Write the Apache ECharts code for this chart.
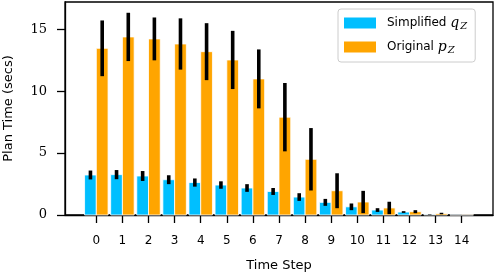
<!DOCTYPE html>
<html>
<head>
<meta charset="utf-8">
<script src="https://cdn.jsdelivr.net/npm/echarts@6/dist/echarts.min.js"></script>
<style>html,body{margin:0;padding:0;background:#fff}#c{width:496px;height:274px}</style>
</head>
<body>
<div id="c"></div>
<script>
const timeSteps = [0,1,2,3,4,5,6,7,8,9,10,11,12,13,14];
const simplifiedMean = [3.23,3.26,3.15,2.85,2.62,2.42,2.18,1.90,1.45,1.02,0.66,0.40,0.24,0.04,0.01];
const simplifiedErr  = [0.36,0.37,0.40,0.36,0.33,0.30,0.31,0.28,0.31,0.28,0.27,0.15,0.07,0.02,0.0];
const originalMean   = [13.46,14.38,14.22,13.81,13.19,12.52,10.99,7.90,4.50,1.96,1.05,0.57,0.27,0.12,0.02];
const originalErr    = [2.25,1.95,1.73,2.07,2.30,2.35,2.38,2.76,2.52,1.41,0.90,0.50,0.12,0.06,0.0];
const yTicks = [0,5,10,15];

const BLUE = '#00BFFF', ORANGE = '#FFA500';
const W = 0.45;

function barSeries(name, means, color, side) {
  return {
    name: name, type: 'custom', z: 2,
    data: timeSteps.map((t,i) => [t, means[i]]),
    encode: {x: 0, y: 1},
    renderItem: function (params, api) {
      const x = api.value(0), v = api.value(1);
      const x0 = side < 0 ? x - W : x, x1 = side < 0 ? x : x + W;
      const p0 = api.coord([x0, v]), p1 = api.coord([x1, 0]);
      return {type: 'rect', shape: {x: p0[0], y: p0[1], width: p1[0]-p0[0], height: p1[1]-p0[1]},
        style: {fill: color, stroke: '#fff', lineWidth: 0.8}};
    }
  };
}
function errSeries(name, means, errs, side) {
  return {
    name: name, type: 'custom', z: 3,
    data: timeSteps.map((t,i) => [t, means[i], errs[i]]),
    encode: {x: 0, y: 1},
    renderItem: function (params, api) {
      const x = api.value(0) + side * W / 2, m = api.value(1), e = api.value(2);
      if (e <= 0) return null;
      const a = api.coord([x, m + e]), b = api.coord([x, Math.max(0, m - e)]);
      return {type: 'line', shape: {x1: a[0], y1: a[1], x2: b[0], y2: b[1]},
        style: {stroke: '#000', lineWidth: 3.6}};
    }
  };
}

const sans = '"DejaVu Sans", sans-serif';
const serif = '"DejaVu Serif", serif';

const chart = echarts.init(document.getElementById('c'));
chart.setOption({
  animation: false,
  grid: {left: 65, right: 3, top: 2, bottom: 59, containLabel: false, outerBoundsMode: 'none',
         show: true, borderColor: '#000', borderWidth: 1.3, backgroundColor: 'rgba(0,0,0,0)'},
  legend: {
    orient: 'vertical', left: 338, top: 9,
    backgroundColor: '#fff', borderColor: '#ccc', borderWidth: 1, borderRadius: 3,
    padding: [7, 8, 7, 6], itemGap: 9, itemWidth: 32, itemHeight: 11,
    data: [
      {name: 'Simplified', icon: 'rect', itemStyle: {color: BLUE}},
      {name: 'Original', icon: 'rect', itemStyle: {color: ORANGE}}
    ],
    formatter: function (n) {
      return n === 'Simplified' ? '{n|Simplified }{m|q}{s|Z}' : '{n|Original }{m|p}{s|Z}';
    },
    textStyle: {
      color: '#000',
      rich: {
        n: {fontFamily: sans, fontSize: 12, color: '#000', padding: [0, 0, 0, 6]},
        m: {fontFamily: serif, fontStyle: 'italic', fontSize: 14, color: '#000'},
        s: {fontFamily: serif, fontStyle: 'italic', fontSize: 10, color: '#000', padding: [6, 0, 0, 1]}
      }
    }
  },
  xAxis: {
    type: 'value', min: -1.2, max: 15.2,
    name: 'Time Step', nameLocation: 'middle', nameGap: 44,
    nameTextStyle: {fontFamily: sans, fontSize: 13, color: '#000'},
    axisLine: {show: true, onZero: false, lineStyle: {color: '#000', width: 1.3}},
    axisTick: {show: true, inside: false, length: 8, lineStyle: {color: '#000', width: 1.3}, customValues: timeSteps},
    axisLabel: {customValues: timeSteps, margin: 20, fontFamily: sans, fontSize: 12, color: '#000'},
    splitLine: {show: false}
  },
  yAxis: {
    type: 'value', min: 0, max: 17.2,
    name: 'Plan Time (secs)', nameLocation: 'middle', nameGap: 50,
    nameTextStyle: {fontFamily: sans, fontSize: 13, color: '#000'},
    axisLine: {show: true, onZero: false, lineStyle: {color: '#000', width: 1.3}},
    axisTick: {show: true, inside: false, length: 8, lineStyle: {color: '#000', width: 1.3}, customValues: yTicks},
    axisLabel: {customValues: yTicks, margin: 18, fontFamily: serif, fontSize: 13, color: '#000'},
    splitLine: {show: false}
  },
  series: [
    barSeries('Simplified', simplifiedMean, BLUE, -1),
    errSeries('Simplified', simplifiedMean, simplifiedErr, -1),
    barSeries('Original', originalMean, ORANGE, 1),
    errSeries('Original', originalMean, originalErr, 1)
  ]
});
</script>
</body>
</html>
